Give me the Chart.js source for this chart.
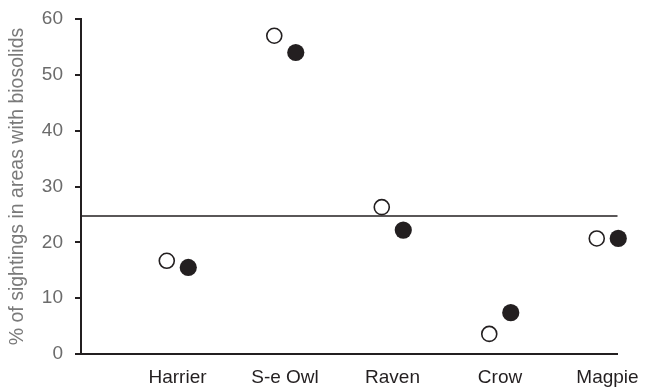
<!DOCTYPE html>
<html>
<head>
<meta charset="utf-8">
<script src="https://cdn.jsdelivr.net/npm/chart.js@4/dist/chart.umd.min.js"></script>
<style>
  html, body { margin: 0; padding: 0; background: #fff; }
  #wrap { width: 645px; height: 389px; }
</style>
</head>
<body>
<div id="wrap"><canvas id="birdChart"></canvas></div>
<script>
// categories and the two sighting series (% in areas with biosolids)
const birds = ['Harrier', 'S-e Owl', 'Raven', 'Crow', 'Magpie'];
const openValues = [16.7, 57.0, 26.3, 3.6, 20.7];
const filledValues = [15.5, 54.0, 22.2, 7.4, 20.7];
const refLevel = [24.7];
const yTicks = [0, 10, 20, 30, 40, 50, 60];

const dodge = 0.1; // horizontal shift of the two markers around each category

const openPoints = openValues.map((v, i) => ({ x: i - dodge, y: v }));
const filledPoints = filledValues.map((v, i) => ({ x: i + dodge, y: v }));

// horizontal reference line across the plot
const refLinePlugin = {
    id: 'refLine',
    beforeDatasetsDraw(chart) {
        const { ctx, chartArea, scales } = chart;
        const y = scales.y.getPixelForValue(refLevel[0]);
        ctx.save();
        ctx.strokeStyle = '#231f20';
        ctx.lineWidth = 1.5;
        ctx.beginPath();
        ctx.moveTo(chartArea.left, y);
        ctx.lineTo(chartArea.right, y);
        ctx.stroke();
        ctx.restore();
    }
};

const font = 'Liberation Sans, Arial, sans-serif';

new Chart(document.getElementById('birdChart'), {
    type: 'scatter',
    data: {
        datasets: [
            {
                data: openPoints,
                clip: false,
                pointStyle: 'circle',
                pointRadius: 7.5,
                backgroundColor: '#ffffff',
                borderColor: '#231f20',
                borderWidth: 1.6
            },
            {
                data: filledPoints,
                clip: false,
                pointStyle: 'circle',
                pointRadius: 8.6,
                backgroundColor: '#231f20',
                borderColor: '#231f20',
                borderWidth: 0
            }
        ]
    },
    options: {
        responsive: true,
        maintainAspectRatio: false,
        animation: false,
        events: [],
        layout: {
            padding: { top: 19, right: 27.5, bottom: 0, left: 0 }
        },
        plugins: {
            legend: { display: false },
            tooltip: { enabled: false }
        },
        scales: {
            x: {
                type: 'linear',
                min: -0.898,
                max: 4.093,
                afterBuildTicks: (scale) => {
                    scale.ticks = birds.map((b, i) => ({ value: i }));
                },
                afterFit: (scale) => {
                    scale.height = 35;
                    scale.paddingLeft = 0;
                    scale.paddingRight = 0;
                },
                grid: { display: false, drawTicks: false },
                border: { display: true, color: '#231f20', width: 2 },
                ticks: {
                    color: '#231f20',
                    padding: 12,
                    maxRotation: 0,
                    font: { family: font, size: 19 },
                    callback: (value) => birds[value] ?? ''
                }
            },
            y: {
                min: 0,
                max: 60,
                afterBuildTicks: (scale) => {
                    scale.ticks = yTicks.map(v => ({ value: v }));
                },
                afterFit: (scale) => {
                    scale.width = 81;
                    scale.paddingTop = 0;
                    scale.paddingBottom = 0;
                },
                grid: {
                    drawOnChartArea: false,
                    drawTicks: true,
                    tickLength: 6,
                    color: '#231f20',
                    lineWidth: 2
                },
                border: { display: true, color: '#231f20', width: 2 },
                ticks: {
                    color: '#6b6b6b',
                    padding: 12,
                    font: { family: font, size: 19 }
                },
                title: {
                    display: true,
                    text: '% of sightings in areas with biosolids',
                    color: '#7a7a7a',
                    padding: { top: 6, bottom: 0 },
                    font: { family: font, size: 19.5 }
                }
            }
        }
    },
    plugins: [refLinePlugin]
});
</script>
</body>
</html>
